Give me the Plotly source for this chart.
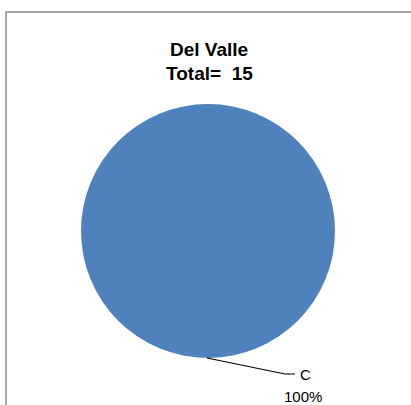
import plotly.graph_objects as go

labels = ["C"]
values = [15]
title_lines = ["Del Valle", "Total=\u00a0\u00a015"]

W, H = 411, 405
cx, cy, r = 208, 231, 127

def px(x):
    return x / W

def py(y):
    return 1 - y / H

fig = go.Figure()
fig.add_trace(go.Pie(
    labels=labels, values=values,
    marker=dict(colors=["#4F81BD"], line=dict(width=0)),
    textinfo="none", hoverinfo="label+percent",
    sort=False, direction="clockwise", rotation=0,
    showlegend=False,
    domain=dict(x=[px(cx - r), px(cx + r)], y=[py(cy + r), py(cy - r)]),
))

total = sum(values)
pct = [f"{round(v / total * 100)}%" for v in values]

lab_font = dict(family="Liberation Sans, Arial", size=15, color="#000")
fig.add_annotation(x=px(298), y=py(374), xref="paper", yref="paper",
                   text=labels[0], showarrow=False, xanchor="left", yanchor="middle",
                   font=lab_font)
fig.add_annotation(x=px(303), y=py(396), xref="paper", yref="paper",
                   text=pct[0], showarrow=False, xanchor="center", yanchor="middle",
                   font=lab_font)

fig.add_shape(type="path", xref="paper", yref="paper",
              path=f"M {px(207)} {py(358)} L {px(285)} {py(374)} L {px(295)} {py(374)}",
              line=dict(color="#000", width=1.2))

fig.add_shape(type="rect", xref="paper", yref="paper",
              x0=px(6), y0=-0.05, x1=1.05, y1=py(12),
              line=dict(color="#8a8a8a", width=1.5))

title_font = dict(family="Liberation Sans, Arial", size=19, color="#000")
for yy, t in zip([49, 74], title_lines):
    fig.add_annotation(x=px(209), y=py(yy), xref="paper", yref="paper",
                       text="<b>" + t + "</b>",
                       showarrow=False, xanchor="center", yanchor="middle",
                       font=title_font)

fig.update_layout(width=W, height=H, margin=dict(l=0, r=0, t=0, b=0),
                  paper_bgcolor="white", plot_bgcolor="white")

fig.write_html("out.html", config={"displayModeBar": False},
               post_script="document.body.style.margin='0';document.body.style.overflow='hidden';")
